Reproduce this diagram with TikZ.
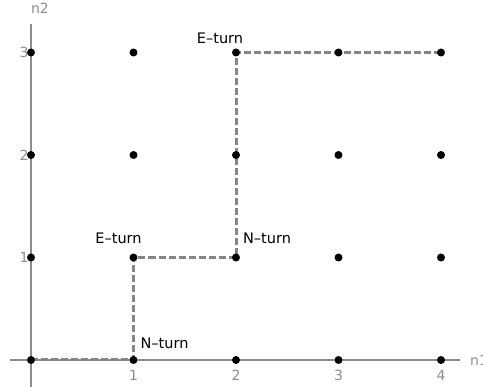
\documentclass[tikz,border=0pt]{standalone}
\usepackage{fontspec}
\setmainfont{DejaVu Sans}
\usetikzlibrary{positioning}
\definecolor{axisgray}{HTML}{8C8C8C}
\definecolor{routegray}{HTML}{858585}

\begin{document}
\begin{tikzpicture}[
    x=102.5pt, y=102.5pt,
    font=\fontsize{14.5}{16}\selectfont,
    lattice/.style={circle, fill=black, inner sep=0pt, minimum size=8pt},
    axisline/.style={draw=axisgray, line width=1.1pt},
    route/.style={draw=routegray, line width=3pt, dash pattern=on 7pt off 3pt},
    turn/.style={inner sep=0pt},
    ticklbl/.style={text=axisgray, inner sep=0pt, font=\fontsize{14}{16}\selectfont}
]
\useasboundingbox (-31pt,-27pt) rectangle (452pt,360pt);

% grid points
\foreach \i in {0,...,4}
  \foreach \j in {0,...,3}
    \coordinate (p\i\j) at (\i,\j);

% axes
\coordinate (xstart) at (-21pt,0);
\coordinate (xend) at (429pt,0);
\coordinate (ystart) at (0,-27pt);
\coordinate (yend) at (0,336pt);
\draw[axisline] (xstart) -- (xend);
\draw[axisline] (ystart) -- (yend);
\foreach \i in {1,...,4} {
  \draw[axisline] (p\i0) -- ++(0,-4pt);
  \node[ticklbl] (xt\i) at ([yshift=-15pt]p\i0) {\i};
}
\foreach \j in {1,...,3} {
  \draw[axisline] (p0\j) -- ++(4pt,0);
  \node[ticklbl] (yt\j) at ([xshift=-7pt]p0\j) {\j};
}
\node[ticklbl, anchor=west] (xlabel) at (439pt,0) {n1};
\node[ticklbl] (ylabel) at (9pt,352pt) {n2};

% lattice path
\draw[route] (p00) -- (p10) -- (p11) -- (p21) -- (p23) -- (p43);

\foreach \i in {0,...,4}
  \foreach \j in {0,...,3}
    \node[lattice] (d\i\j) at (p\i\j) {};

% turn labels
\node[turn] (nturnA) at ([shift={(31pt,17pt)}]p10) {N–turn};
\node[turn] (eturnA) at ([shift={(-15pt,19pt)}]p11) {E–turn};
\node[turn] (nturnB) at ([shift={(31pt,19pt)}]p21) {N–turn};
\node[turn] (eturnB) at ([shift={(-16pt,14pt)}]p23) {E–turn};
\end{tikzpicture}
\end{document}
